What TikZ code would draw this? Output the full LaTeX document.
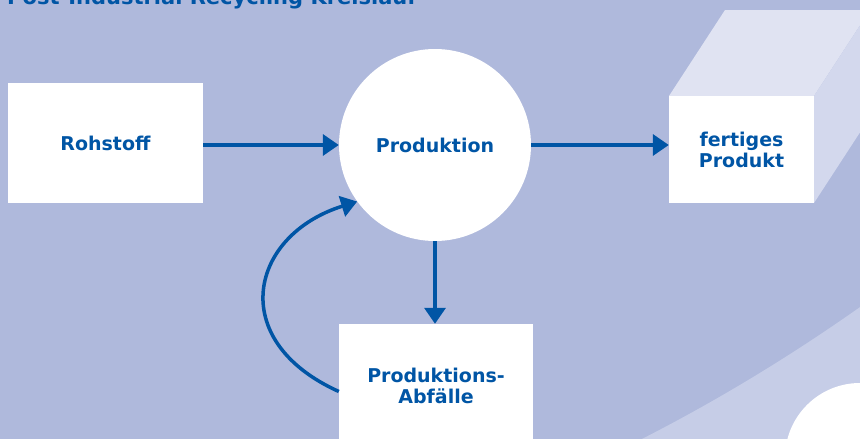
\documentclass[tikz,border=0pt]{standalone}
\usepackage{fontspec}
\setmainfont{DejaVu Sans}
\usetikzlibrary{arrows.meta}
\definecolor{bgc}{HTML}{AFB9DC}
\definecolor{lightc}{HTML}{C6CDE7}
\definecolor{topc}{HTML}{E0E3F2}
\definecolor{sidec}{HTML}{D3D8ED}
\definecolor{myblue}{HTML}{0055A5}
\begin{document}
\begin{tikzpicture}[x=1pt,y=-1pt,
  lbl/.style={font=\fontsize{19}{21}\selectfont\bfseries, text=myblue, align=center},
  whitebox/.style={fill=white, draw=none, inner sep=0pt},
  conn/.style={draw=myblue, line width=3.5pt, -{Triangle[length=16pt,width=21pt]}}]
\useasboundingbox (0,0) rectangle (860,439);
\begin{scope}
\clip (0,0) rectangle (860,439);
\fill[bgc] (0,0) rectangle (860,439);
\fill[lightc] (630,445) .. controls (720,400) and (800,350) .. (870,300) -- (870,445) -- cycle;
\fill[white] (860,458) circle (75);
% 3D faces of the product box
\fill[topc] (669,96) -- (814,96) -- (870,10) -- (725,10) -- cycle;
\fill[sidec] (814,96) -- (870,10) -- (870,117) -- (814,203) -- cycle;
\node[lbl, font=\fontsize{21}{24}\selectfont\bfseries, anchor=base west, inner sep=0pt] (title) at (7,4.5) {Post-Industrial Recycling Kreislauf};
\node[whitebox, lbl, minimum width=195pt, minimum height=120pt] (roh) at (105.5,143) {Rohstoff};
\node[whitebox, lbl, circle, minimum size=192pt] (prod) at (435,145) {Produktion};
\node[whitebox, lbl, minimum width=145pt, minimum height=107pt] (fert) at (741.5,149.5) {fertiges\\Produkt};
\node[whitebox, lbl, minimum width=194pt, minimum height=123pt] (abf) at (436,385.5) {Produktions-\\Abfälle};
\draw[conn] (roh.east |- prod.west) -- (prod.west);
\draw[conn] (prod.east) -- (fert.west |- prod.east);
\draw[conn] (prod.south) -- (prod.south |- abf.north);
\draw[conn] ([yshift=-6pt]abf.west) .. controls (225,340) and (250,235) .. (prod.216);
\end{scope}
\end{tikzpicture}
\end{document}
